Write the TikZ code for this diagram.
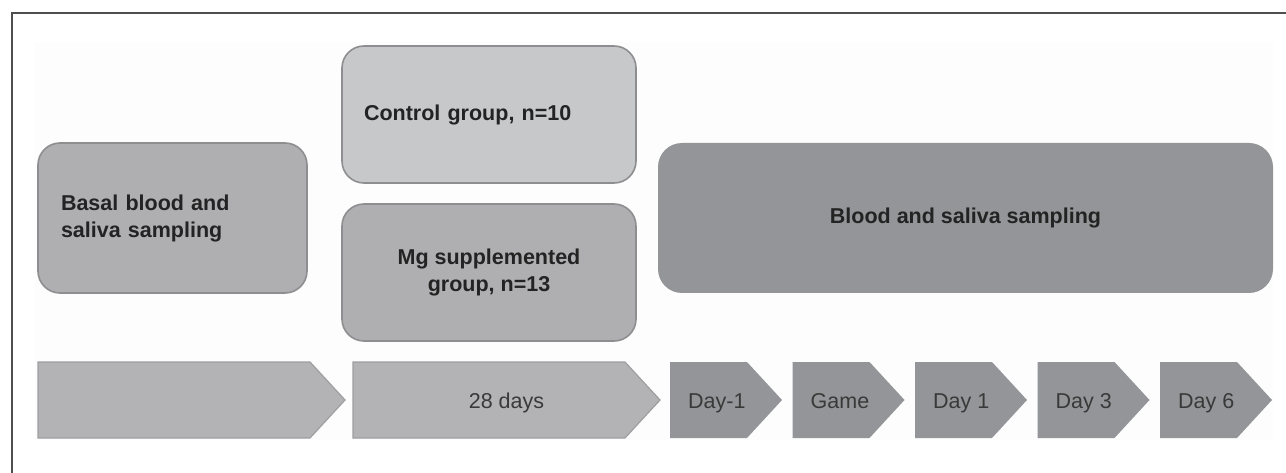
\documentclass[tikz,border=0pt]{standalone}
\usepackage{fontspec}
\setmainfont{Liberation Sans}
\usetikzlibrary{positioning}
\definecolor{StudyLight}{HTML}{C7C8CA}
\definecolor{StudyMid}{HTML}{AFAFB1}
\definecolor{StudyDark}{HTML}{949598}
\definecolor{StudyEdge}{HTML}{8E8E90}
\definecolor{StudyFrame}{HTML}{4E4E4E}
\definecolor{StudyText}{HTML}{232323}

% chevron: style, name, left x, width, label node options, label
\newcommand{\chevron}[6]{%
  \path[#1] (#3,362) -- ++({#4-35},0) -- ++(35,38) -- ++(-35,38) -- ++({35-#4},0) -- cycle;
  \node[#5] (#2) at ({#3+18},408) {#6};}

\begin{document}
\begin{tikzpicture}[x=1pt, y=-1pt, every node/.style={font=\fontsize{21.5}{27}\selectfont, text=StudyText}]
      \tikzset{
        phase/.style={rectangle, rounded corners=22pt, draw=StudyEdge, line width=1.6pt, fill=StudyMid, font=\fontsize{21.5}{27}\selectfont\bfseries, inner sep=0pt},
        sample/.style={rectangle, rounded corners=24pt, fill=StudyDark, font=\fontsize{21.5}{27}\selectfont\bfseries, inner sep=0pt},
        span/.style={draw=StudyEdge!85, line width=1.2pt, fill=StudyMid!95!white},
        daystep/.style={fill=StudyDark},
        steplabel/.style={anchor=base west, inner sep=0pt, text=StudyText!90}
      }
      \useasboundingbox (0,0) rectangle (1286,473);
      % frame and faint panel
      \fill[gray!1.5] (35,42) rectangle (1273,440);
      \draw[StudyFrame, line width=2pt] (12,473) -- (12,13) -- (1286,13);

      % top row
      \node[phase, minimum width=269pt, minimum height=150pt, text width=223pt, inner xsep=23pt, align=left] (basal) at (172.5,218) {Basal blood and\\saliva sampling};
      \node[phase, fill=StudyLight, minimum width=294pt, minimum height=137pt, text width=250pt, inner xsep=22pt, align=left] (control) at (489,114.5) {Control group, n=10};
      \node[phase, minimum width=294pt, minimum height=137pt, align=center] (mg) at (489,272.5) {Mg supplemented\\group, n=13};
      \node[sample, minimum width=615pt, minimum height=150pt] (blood) at (965.5,218) {Blood and saliva sampling};

      % timeline
      \chevron{span}{pre}{38}{307}{steplabel}{}
      \chevron{span}{supp}{353}{307}{steplabel, anchor=base, xshift=135.5pt}{28 days}
      \foreach \lbl [count=\i from 0] in {Day-1, Game, Day 1, Day 3, Day 6}
        {\chevron{daystep}{day\i}{670+122.5*\i}{112}{steplabel}{\lbl}}
    \end{tikzpicture}
\end{document}
